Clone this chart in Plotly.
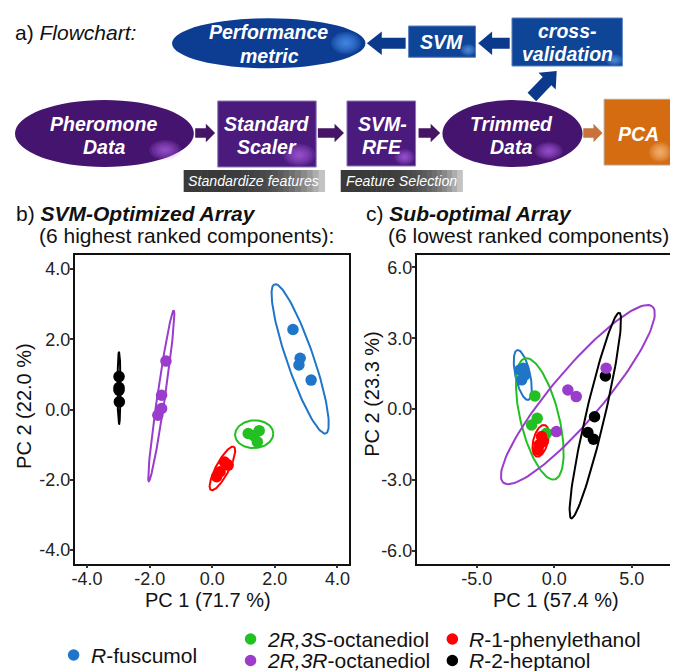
import numpy as np
import plotly.graph_objects as go

W, H = 678, 671          # target picture size
OFF = 8                  # page body margin of the html page
FW, FH = W - OFF, H - OFF
FONT = "Liberation Sans, Arial, sans-serif"

# ---------------- data ----------------
groups = ["R-fuscumol", "2R,3S-octanediol", "2R,3R-octanediol", "R-1-phenylethanol", "R-2-heptanol"]
legend_labels = ["<i>R</i>-fuscumol", "<i>2R,3S</i>-octanediol", "<i>2R,3R</i>-octanediol",
                 "<i>R</i>-1-phenylethanol", "<i>R</i>-2-heptanol"]
group_colors = ["#1f76c8", "#22c022", "#9a3ccc", "#ff0000", "#000000"]

# panel b: SVM-optimized array, PC scores (group order as above)
b_x = [[2.58, 2.81, 2.77, 3.16],
       [1.15, 1.50, 1.44, 1.33],
       [-1.48, -1.62, -1.62, -1.74],
       [0.39, 0.25, 0.14, 0.51],
       [-2.98, -2.98, -2.97, -2.98]]
b_y = [[2.28, 1.46, 1.27, 0.84],
       [-0.68, -0.60, -0.92, -0.74],
       [1.38, 0.41, 0.03, -0.16],
       [-1.49, -1.77, -1.91, -1.58],
       [0.94, 0.63, 0.22, 0.55]]
# confidence ellipses: centre, major half-axis vector (data units), minor/major ratio
b_ell_cx = [2.81, 1.34, -1.63, 0.325, -2.98]
b_ell_cy = [1.445, -0.70, 0.395, -1.675, 0.615]
b_ell_ux = [-0.82, 0.61, 0.40, 0.365, 0.0]
b_ell_uy = [2.125, 0.03, 2.435, 0.615, 1.035]
b_ell_ratio = [0.17, 0.72, 0.045, 0.27, 0.04]

# panel c: sub-optimal array
c_x = [[-2.21, -1.89, -2.10, -2.00],
       [-1.25, -1.10, -1.46, -0.50],
       [0.88, 1.42, 0.14, 3.35],
       [-0.82, -0.97, -0.72, -1.04],
       [3.30, 2.60, 2.17, 2.53]]
c_y = [[1.66, 1.45, 1.24, 1.73],
       [0.56, -0.39, -0.67, -1.02],
       [0.81, 0.53, -0.95, 1.73],
       [-1.16, -1.51, -1.37, -1.73],
       [1.40, -0.32, -0.99, -1.27]]
c_ell_cx = [-2.03, -0.93, 1.525, -0.875, 2.65]
c_ell_cy = [1.445, -0.41, 0.615, -1.34, -0.27]
c_ell_ux = [-0.35, -0.96, 4.805, 0.265, 1.55]
c_ell_uy = [1.055, 2.56, 3.725, 0.67, 4.35]
c_ell_ratio = [0.29, 0.31, 0.22, 0.45, 0.09]

b_ticks = [-4.0, -2.0, 0.0, 2.0, 4.0]
c_xticks = [-5.0, 0.0, 5.0]
c_yticks = [-6.0, -3.0, 0.0, 3.0, 6.0]

b_xtitle, b_ytitle = "PC 1 (71.7 %)", "PC 2 (22.0 %)"
c_xtitle, c_ytitle = "PC 1 (57.4 %)", "PC 2 (23.3 %)"

# ---------------- layout geometry (page pixels) ----------------
B_DOM_X = (72, 348)
C_DOM_X = (416, 671)
DOM_Y = (255, 563.5)
B_XR, B_YR = [-4.4, 4.37], [-4.38, 4.4]
C_XR, C_YR = [-8.88, 7.47], [-6.53, 6.52]


def X(px):
    return (px - OFF) / FW


def Y(py):
    return 1 - (py - OFF) / FH


def ellipse_pts(cx, cy, ux, uy, ratio, sx, sy, n=120):
    t = np.linspace(0, 2 * np.pi, n)
    usx, usy = ux * sx, uy * sy
    vx, vy = -usy * ratio / sx, usx * ratio / sy
    return cx + ux * np.cos(t) + vx * np.sin(t), cy + uy * np.cos(t) + vy * np.sin(t)


fig = go.Figure()

draw_order = [0, 1, 3, 4, 2]
panels = [
    ("x", "y", b_x, b_y, b_ell_cx, b_ell_cy, b_ell_ux, b_ell_uy, b_ell_ratio, B_DOM_X, B_XR, B_YR),
    ("x2", "y2", c_x, c_y, c_ell_cx, c_ell_cy, c_ell_ux, c_ell_uy, c_ell_ratio, C_DOM_X, C_XR, C_YR),
]
for xa, ya, px_, py_, ecx, ecy, eux, euy, erat, dom, xr, yr in panels:
    sx = (dom[1] - dom[0]) / (xr[1] - xr[0])
    sy = (DOM_Y[1] - DOM_Y[0]) / (yr[1] - yr[0])
    for g in range(len(groups)):
        ex, ey = ellipse_pts(ecx[g], ecy[g], eux[g], euy[g], erat[g], sx, sy)
        fig.add_trace(go.Scatter(x=ex, y=ey, xaxis=xa, yaxis=ya, mode="lines",
                                 line=dict(color=group_colors[g], width=2),
                                 hoverinfo="skip", showlegend=False))
    for g in draw_order:
        fig.add_trace(go.Scatter(x=px_[g], y=py_[g], xaxis=xa, yaxis=ya, mode="markers",
                                 marker=dict(color=group_colors[g], size=11.5, line=dict(width=0)),
                                 name=groups[g], showlegend=False))

shapes = []
ann = []


def rect(x0, y0, x1, y1, color, lc=None, lw=0):
    shapes.append(dict(type="rect", xref="paper", yref="paper", x0=X(x0), x1=X(x1),
                       y0=Y(y1), y1=Y(y0), fillcolor=color,
                       line=dict(width=lw, color=lc or color), layer="above"))


def oval(cx, cy, rx, ry, color, lc=None, lw=0):
    shapes.append(dict(type="circle", xref="paper", yref="paper", x0=X(cx - rx), x1=X(cx + rx),
                       y0=Y(cy + ry), y1=Y(cy - ry), fillcolor=color,
                       line=dict(width=lw, color=lc or color), layer="above"))


def glow(cx, cy, rx, ry, rgb, n=6, a=0.14):
    for k in range(n):
        f = 1 - k / n
        oval(cx, cy, rx * f, ry * f, f"rgba({rgb},{a})")


def arrow(x0, y0, x1, y1, sw, hw, hl, color):
    d = np.array([x1 - x0, y1 - y0], float)
    L = np.hypot(*d)
    d /= L
    nrm = np.array([-d[1], d[0]])
    s = np.array([x0, y0], float)
    b = s + d * (L - hl)
    pts = [s + nrm * sw, b + nrm * sw, b + nrm * hw, np.array([x1, y1], float),
           b - nrm * hw, b - nrm * sw, s - nrm * sw]
    path = "M " + " L ".join(f"{X(p[0]):.5f},{Y(p[1]):.5f}" for p in pts) + " Z"
    shapes.append(dict(type="path", xref="paper", yref="paper", path=path,
                       fillcolor=color, line=dict(width=0), layer="above"))


def text(px, py, s, size, color="#111", xanchor="center", angle=0):
    ann.append(dict(x=X(px), y=Y(py), xref="paper", yref="paper", text=s, showarrow=False,
                    xanchor=xanchor, yanchor="middle", textangle=angle, borderpad=0,
                    font=dict(family=FONT, size=size, color=color)))


# ---------------- flowchart ----------------
PURP = "#45146f"
PURP_BOX = "#4a1a7c"
BLUE = "#0c3d92"
BLUE_BOX = "#0e4597"
ORANGE = "#d56c12"
node_font = 19.5

# top row
oval(267.3, 43.3, 97.3, 25, BLUE)
glow(345, 43, 15, 11, "90,160,255", a=0.18)
rect(408, 26, 475.3, 57.3, BLUE_BOX, "#5a7fc0", 1)
glow(468, 50, 8, 6, "110,180,255")
rect(512, 18, 623, 66, BLUE_BOX, "#5a7fc0", 1)
glow(615, 60, 9, 6, "110,180,255")
arrow(405, 43.3, 366, 43.3, 5.5, 11.7, 15, "#0b3a8c")
arrow(509.7, 43.3, 478, 43.3, 5.5, 11.7, 14, "#0b3a8c")
arrow(532, 97, 557, 71, 6, 12, 14, "#0b3a8c")

# bottom row
oval(102, 133.5, 90, 33.5, PURP)
glow(163, 150, 16, 10, "200,110,255")
rect(216, 101, 315, 167, PURP_BOX, "#8a78b8", 1)
glow(298, 155, 16, 11, "200,110,255")
rect(346, 101, 415, 166, PURP_BOX, "#8a78b8", 1)
glow(404, 157, 10, 8, "200,110,255")
oval(512.5, 133.5, 70.5, 33.5, PURP)
glow(549, 151, 14, 9, "200,110,255")
rect(604.7, 99.3, 673.7, 165, ORANGE, "#b8a090", 1)
glow(661, 152, 11, 10, "255,205,150", a=0.16)
arrow(193.3, 133, 213.3, 133, 4.7, 9.2, 9.3, "#461464")
arrow(316.7, 133, 343, 133, 4.7, 9.2, 9.5, "#461464")
arrow(418, 133, 439.7, 133, 4.7, 9.2, 9.5, "#461464")
arrow(583.7, 133, 603, 133, 4.7, 9.2, 9.0, "#c8733a")

# grey gradient label boxes
for (x0, x1) in [(181.7, 323.3), (339.7, 462)]:
    n = 24
    w = (x1 - x0) / n
    for i in range(n):
        t = (i + 0.5) / n
        v = int(58 + 150 * t ** 4)
        rect(x0 + i * w, 170, x0 + (i + 1) * w + 0.6, 192, f"rgb({v},{v},{v})")

WB = "#ffffff"
text(267.5, 32.5, "<b><i>Performance</i></b>", node_font, WB)
text(268, 56.5, "<b><i>metric</i></b>", node_font, WB)
text(441.5, 42, "<b><i>SVM</i></b>", node_font, WB)
text(567.5, 31, "<b><i>cross-</i></b>", node_font, WB)
text(567.5, 54.5, "<b><i>validation</i></b>", node_font, WB)
text(101.5, 123.5, "<b><i>Pheromone</i></b>", node_font, WB)
text(102, 147, "<b><i>Data</i></b>", node_font, WB)
text(265.5, 123.5, "<b><i>Standard</i></b>", node_font, WB)
text(265.5, 147, "<b><i>Scaler</i></b>", node_font, WB)
text(381.5, 123.5, "<b><i>SVM-</i></b>", node_font, WB)
text(381.5, 147, "<b><i>RFE</i></b>", node_font, WB)
text(512, 123.5, "<b><i>Trimmed</i></b>", node_font, WB)
text(511.5, 147, "<b><i>Data</i></b>", node_font, WB)
text(639.5, 133.5, "<b><i>PCA</i></b>", node_font, WB)
text(252, 181, "<i>Standardize features</i>", 14.2, WB)
text(401, 181, "<i>Feature Selection</i>", 14.2, WB)

# ---------------- titles ----------------
text(11, 33, "a) <i>Flowchart:</i>", 21, "#111", "left")
text(12, 213, "b) <b><i>SVM-Optimized Array</i></b>", 21, "#111", "left")
text(35, 235, "(6 highest ranked components):", 21, "#111", "left")
text(364, 213, "c) <b><i>Sub-optimal Array</i></b>", 21, "#111", "left")
text(386, 235, "(6 lowest ranked components):", 21, "#111", "left")

# axis titles
text(206, 600, b_xtitle, 20)
text(21, 406, b_ytitle, 20, angle=-90)
text(556.5, 600, c_xtitle, 20)
text(371, 394, c_ytitle, 20, angle=-90)

# ---------------- legend ----------------
leg_pos = [(71, 655), (249, 639), (249, 660.5), (452, 639), (452, 660.5)]
for g, (lx, ly) in enumerate(leg_pos):
    oval(lx, ly, 5.8, 5.8, group_colors[g])
    text(lx + 16, ly, legend_labels[g], 21, "#111", "left")


def axis(dom, rng, ticks, anchor, vertical):
    if vertical:
        dom_frac = [1 - (dom[1] - OFF) / FH, 1 - (dom[0] - OFF) / FH]
    else:
        dom_frac = [(dom[0] - OFF) / FW, (dom[1] - OFF) / FW]
    return dict(domain=dom_frac, range=rng, anchor=anchor, tickvals=ticks,
                ticktext=[f"{v:.1f}" for v in ticks], ticks="outside", ticklen=3,
                tickwidth=1.5, tickcolor="#333", showline=True, linecolor="#111",
                linewidth=1.6, mirror=True, showgrid=False, zeroline=False,
                ticklabelstandoff=(-4 if vertical else -5),
                tickfont=dict(family=FONT, size=18, color="#222"), fixedrange=True)


fig.update_layout(
    width=FW, height=FH, margin=dict(l=0, r=0, t=0, b=0),
    paper_bgcolor="white", plot_bgcolor="white", showlegend=False,
    font=dict(family=FONT),
    xaxis=axis(B_DOM_X, B_XR, b_ticks, "y", False),
    yaxis=axis(DOM_Y, B_YR, b_ticks, "x", True),
    xaxis2=axis(C_DOM_X, C_XR, c_xticks, "y2", False),
    yaxis2=axis(DOM_Y, C_YR, c_yticks, "x2", True),
    shapes=shapes, annotations=ann,
)

fig.write_html("out.html")
